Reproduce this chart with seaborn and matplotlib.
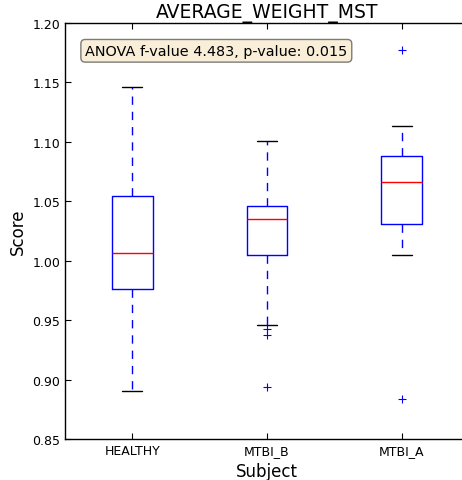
import matplotlib
matplotlib.use("Agg")
import matplotlib.pyplot as plt
import seaborn as sns
import pandas as pd
from matplotlib.ticker import FormatStrFormatter

# Data
categories = ["HEALTHY", "MTBI_B", "MTBI_A"]
healthy_scores = [0.890, 0.976, 1.0065, 1.0545, 1.146]
mtbi_b_scores = [0.894, 0.9375, 0.9425, 0.9455, 1.005, 1.012, 1.020, 1.028,
                 1.035, 1.038, 1.041, 1.044, 1.046, 1.060, 1.075, 1.090, 1.101]
mtbi_a_scores = [0.884, 1.005, 1.031, 1.050, 1.066, 1.078, 1.088, 1.113, 1.177]
title_text = "AVERAGE_WEIGHT_MST"
anova_text = "ANOVA f-value 4.483, p-value: 0.015"
yticks = [0.85, 0.90, 0.95, 1.00, 1.05, 1.10, 1.15, 1.20]

rows = []
for cat, vals in zip(categories, [healthy_scores, mtbi_b_scores, mtbi_a_scores]):
    for v in vals:
        rows.append({"Subject": cat, "Score": v})
df = pd.DataFrame(rows)

sns.set_style("ticks")
plt.rcParams.update({
    "font.family": ["DejaVu Sans"],
    "text.color": "black",
    "axes.labelcolor": "black",
    "xtick.color": "black",
    "ytick.color": "black",
    "xtick.direction": "in",
    "ytick.direction": "in",
    "xtick.top": True,
    "ytick.right": True,
    "axes.edgecolor": "black",
    "axes.linewidth": 1.0,
})

fig = plt.figure(figsize=(4.62, 4.81), dpi=100)
ax = fig.add_axes([65 / 462, 41 / 481, 404 / 462, 416 / 481])

sns.boxplot(
    data=df, x="Subject", y="Score", order=categories, ax=ax,
    fill=False, color="b", width=0.3, linewidth=1.0,
    boxprops={"color": "b", "linewidth": 1.0},
    medianprops={"color": "r", "linewidth": 1.0},
    whiskerprops={"color": "b", "linestyle": (0, (6, 5)), "linewidth": 1.0},
    capprops={"color": "black", "linewidth": 1.0},
    flierprops={"marker": "+", "markeredgecolor": "b", "markerfacecolor": "b",
                "markersize": 6, "markeredgewidth": 0.8},
)

ax.set_xlim(-0.5, 2.5)
ax.set_ylim(0.85, 1.20)
ax.set_yticks(yticks)
ax.yaxis.set_major_formatter(FormatStrFormatter("%.2f"))
ax.tick_params(axis="both", labelsize=9, length=4, width=0.8,
               colors="black", labelcolor="black")
ax.set_xlabel("Subject", fontsize=12, color="black")
ax.set_ylabel("Score", fontsize=12, color="black")
ax.set_title(title_text, fontsize=13.5, pad=4, color="black")
for s in ax.spines.values():
    s.set_visible(True)
    s.set_color("black")

ax.text(0.05, 0.95, anova_text, transform=ax.transAxes, fontsize=10.4,
        va="top", ha="left", color="black",
        bbox=dict(boxstyle="round", facecolor="wheat", edgecolor="black",
                  linewidth=1.0, alpha=0.5))

fig.savefig("out.png", dpi=100)
